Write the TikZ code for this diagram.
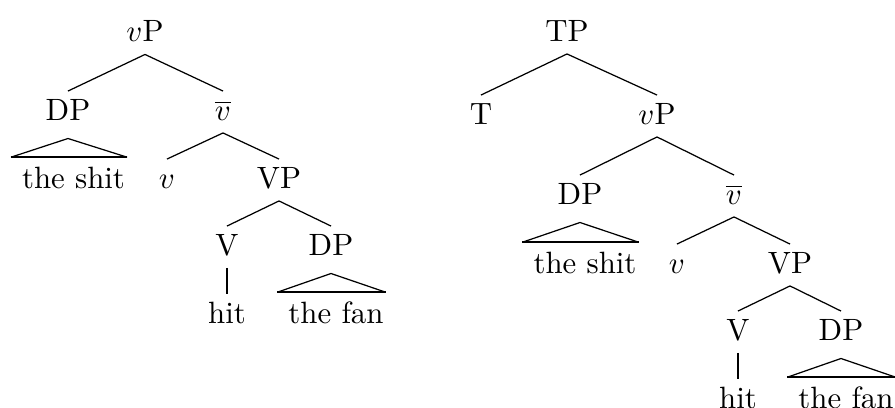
\documentclass[tikz,border=0pt]{standalone}
\usepackage{amsmath}
\usepackage{tikz}
\usetikzlibrary{positioning}

\tikzset{
    cat/.style={inner sep=0pt, text height=9.2pt, text depth=4pt, anchor=base},
    branch/.style={line width=0.4pt},
    roofbase/.style={line width=0.7pt},
}

\begin{document}
\begin{tikzpicture}[x=0.3245pt, y=-0.3245pt]
    \path[use as bounding box, clip] (0,0) rectangle (895,407);

    % left tree
    \node[cat] (vp-a) at (145,41.5) {$v$P};
    \node[cat] (dp-a) at (68,120) {DP};
    \node[cat] (vbar-a) at (223,120) {$\overline{v}$};
    \node[cat] (shit-a) at (73.5,188) {the shit};
    \node[cat] (v-a) at (167,188) {$v$};
    \node[cat] (vp-a2) at (279,188) {VP};
    \node[cat] (verb-a) at (227,255) {V};
    \node[cat] (dp-a2) at (331,255) {DP};
    \node[cat] (hit-a) at (227,323) {hit};
    \node[cat] (fan-a) at (336,323) {the fan};

    % right tree
    \node[cat] (tp-b) at (567,41) {TP};
    \node[cat] (t-b) at (481,124) {T};
    \node[cat] (vp-b) at (657,124) {$v$P};
    \node[cat] (dp-b) at (580,204) {DP};
    \node[cat] (vbar-b) at (734,204) {$\overline{v}$};
    \node[cat] (shit-b) at (585,273) {the shit};
    \node[cat] (v-b) at (677,273) {$v$};
    \node[cat] (vp-b2) at (790,273) {VP};
    \node[cat] (verb-b) at (738,340) {V};
    \node[cat] (dp-b2) at (841,340) {DP};
    \node[cat] (hit-b) at (738,408) {hit};
    \node[cat] (fan-b) at (846,408) {the fan};

    \draw[branch] (dp-a.north) -- (vp-a.south) -- (vbar-a.north);
    \draw[branch] (v-a.north) -- (vbar-a.south) -- (vp-a2.north);
    \draw[branch] (verb-a.north) -- (vp-a2.south) -- (dp-a2.north);
    \draw[roofbase] (verb-a.south) -- (hit-a.north);

    \draw[branch] (t-b.north) -- (tp-b.south) -- (vp-b.north);
    \draw[branch] (dp-b.north) -- (vp-b.south) -- (vbar-b.north);
    \draw[branch] (v-b.north) -- (vbar-b.south) -- (vp-b2.north);
    \draw[branch] (verb-b.north) -- (vp-b2.south) -- (dp-b2.north);
    \draw[roofbase] (verb-b.south) -- (hit-b.north);

    % roofs
    \foreach \phrase/\leaf in {dp-a/shit-a, dp-a2/fan-a, dp-b/shit-b, dp-b2/fan-b} {
        \coordinate (\leaf-l) at ([xshift=-3.4pt, yshift=10pt]\leaf.base west);
        \coordinate (\leaf-r) at ([xshift=0.5pt, yshift=10pt]\leaf.base east);
        \draw[branch] (\leaf-l) -- ([yshift=-6pt]\phrase.base) -- (\leaf-r);
        \draw[roofbase] (\leaf-l) -- (\leaf-r);
    }
\end{tikzpicture}
\end{document}
